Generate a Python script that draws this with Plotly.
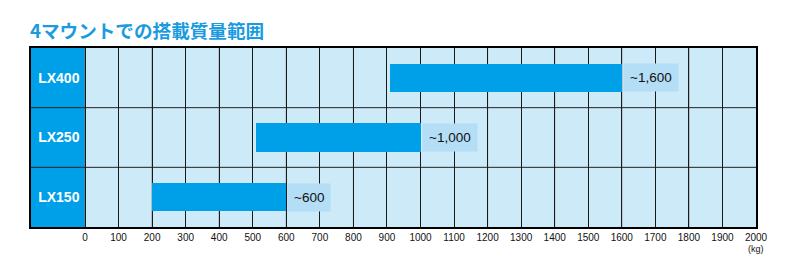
import plotly.graph_objects as go

models = ["LX150", "LX250", "LX400"]
range_start = [200, 510, 910]
range_end = [600, 1000, 1600]
value_labels = ["~600", "~1,000", "~1,600"]
tick_values = list(range(0, 2001, 100))
tick_labels = [str(v) for v in tick_values]

BLUE = "#00a0e9"
CELL = "#cdeaf9"
BUBBLE = "#b3def5"
XMIN = -161

fig = go.Figure()
fig.add_trace(go.Bar(
    y=models,
    x=[e - s for s, e in zip(range_start, range_end)],
    base=range_start,
    orientation="h",
    width=0.48,
    marker=dict(color=BLUE, line=dict(width=0)),
    hoverinfo="skip",
))

shapes = []
shapes.append(dict(type="rect", xref="x", yref="paper", x0=XMIN, x1=0, y0=0, y1=1,
                   fillcolor=BLUE, line=dict(width=0), layer="below"))
for v in tick_values:
    if v % 200 == 0 and v < 2000:
        shapes.append(dict(type="line", xref="x", yref="paper", x0=v, x1=v, y0=0, y1=1,
                           line=dict(color="#7a7a7a", width=1), layer="between"))
for i in range(len(models) - 1):
    shapes.append(dict(type="line", xref="paper", yref="y", x0=0, x1=1, y0=i + 0.5, y1=i + 0.5,
                       line=dict(color="#222", width=1), layer="between"))

annotations = []
for m, e, t in zip(models, range_end, value_labels):
    annotations.append(dict(x=e, y=m, xref="x", yref="y", text=t, showarrow=False,
                            xanchor="left", xshift=1, bgcolor=BUBBLE, borderpad=6,
                            font=dict(family="Liberation Sans, Arial", size=13.5, color="#111",
                                      weight=500)))
annotations.append(dict(x=2000, y=0, xref="x", yref="paper", yshift=-15, text="(kg)",
                        showarrow=False, yanchor="top",
                        font=dict(family="Liberation Sans, Arial", size=9, color="#111")))

fig.update_layout(
    width=791, height=279,
    margin=dict(l=31, r=35, t=48, b=52),
    paper_bgcolor="white",
    plot_bgcolor=CELL,
    showlegend=False,
    bargap=0,
    title=dict(text="<b>4マウントでの搭載質量範囲</b>", x=30 / 791, xanchor="left", xref="container",
               y=1 - 31 / 279, yanchor="middle", yref="container",
               font=dict(family="Noto Sans CJK JP", size=18.6, color="#1a9be0", weight=900)),
    shapes=shapes,
    annotations=annotations,
)
fig.update_xaxes(
    range=[XMIN, 2000], tickvals=tick_values, ticktext=tick_labels,
    showgrid=True, gridcolor="#1a1a1a", gridwidth=1, zeroline=False,
    showline=True, linecolor="black", linewidth=2, mirror=True,
    ticks="", tickfont=dict(family="Liberation Sans, Arial", size=10, color="#111"),
    fixedrange=True,
)
fig.update_yaxes(
    type="category", categoryorder="array", categoryarray=models, range=[-0.5, 2.5],
    showgrid=False, zeroline=False,
    showline=True, linecolor="black", linewidth=2, mirror=True,
    ticks="", ticklabelposition="inside", ticklabelstandoff=7,
    tickfont=dict(family="Liberation Sans, Arial", size=14, color="white", weight="bold"),
    fixedrange=True,
)
fig.write_html("out.html")
